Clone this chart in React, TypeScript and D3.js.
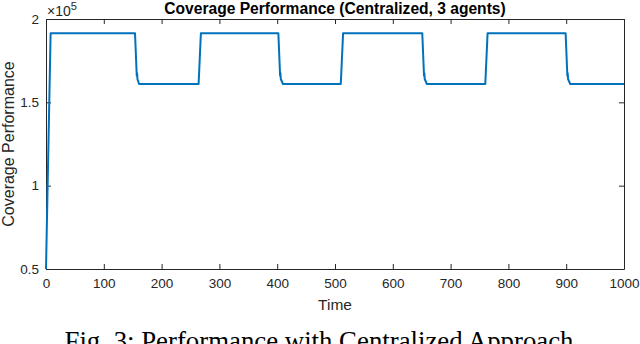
import React, { useEffect, useRef } from "react";
import * as d3 from "d3";

// time steps and coverage values (x1e5)
const times = [
  0, 8, 154, 157, 157.6, 158.2, 161, 264, 268,
  402, 405, 405.6, 406.2, 410, 510, 514,
  651, 654, 654.6, 655.2, 659, 760, 764,
  899, 902, 902.6, 903.2, 907, 1000,
];
const values = [
  0.5, 1.915, 1.915, 1.66, 1.675, 1.64, 1.61, 1.61, 1.915,
  1.915, 1.66, 1.675, 1.64, 1.61, 1.61, 1.915,
  1.915, 1.66, 1.675, 1.64, 1.61, 1.61, 1.915,
  1.915, 1.66, 1.675, 1.64, 1.61, 1.61,
];
const xTicks = [0, 100, 200, 300, 400, 500, 600, 700, 800, 900, 1000];
const yTicks = [0.5, 1, 1.5, 2];

const W = 640;
const H = 344;
const M = { top: 19, right: 16, bottom: 75, left: 46 };
const AXC = "#262626";
const FONT = "'Liberation Sans', Arial, Helvetica, sans-serif";

export default function App() {
  const ref = useRef<SVGSVGElement>(null);

  useEffect(() => {
    const svg = d3.select(ref.current);
    svg.selectAll("*").remove();
    const iw = W - M.left - M.right;
    const ih = H - M.top - M.bottom;

    const x = d3.scaleLinear().domain([0, 1000]).range([0, iw]);
    const y = d3.scaleLinear().domain([0.5, 2]).range([ih, 0]);

    const g = svg.append("g").attr("transform", `translate(${M.left},${M.top})`);

    // axes, MATLAB style ticks pointing in
    const xa = g.append("g")
      .attr("transform", `translate(0,${ih})`)
      .call(d3.axisBottom(x).tickValues(xTicks).tickSizeInner(-5).tickSizeOuter(0).tickPadding(9).tickFormat(d3.format("d")));
    const xt = g.append("g")
      .call(d3.axisTop(x).tickValues(xTicks).tickSizeInner(-5).tickSizeOuter(0).tickFormat(() => ""));
    const ya = g.append("g")
      .call(d3.axisLeft(y).tickValues(yTicks).tickSizeInner(-5).tickSizeOuter(0).tickPadding(7).tickFormat(d3.format("")));
    const yr = g.append("g")
      .attr("transform", `translate(${iw},0)`)
      .call(d3.axisRight(y).tickValues(yTicks).tickSizeInner(-5).tickSizeOuter(0).tickFormat(() => ""));

    [xa, xt, ya, yr].forEach((a) => {
      a.selectAll("path").attr("stroke", AXC).attr("stroke-width", 1);
      a.selectAll("line").attr("stroke", AXC).attr("stroke-width", 1);
      a.selectAll("text").attr("fill", AXC).style("font-family", FONT).style("font-size", "13.5px");
    });

    // data line
    const pts = times.map((t, i) => [t, values[i]] as [number, number]);
    const line = d3.line<[number, number]>()
      .x((d) => x(d[0]))
      .y((d) => y(d[1]));
    g.append("path")
      .datum(pts)
      .attr("fill", "none")
      .attr("stroke", "#0072BD")
      .attr("stroke-width", 2)
      .attr("stroke-linejoin", "round")
      .attr("d", line);

    // exponent label
    const ex = g.append("text")
      .attr("x", 1)
      .attr("y", -3)
      .attr("fill", AXC)
      .style("font-family", FONT)
      .style("font-size", "14px");
    ex.append("tspan").text("\u00d710");
    ex.append("tspan").attr("dy", -6).style("font-size", "11px").text("5");

    // title
    svg.append("text")
      .attr("x", M.left + iw / 2)
      .attr("y", 14)
      .attr("text-anchor", "middle")
      .attr("fill", "#000")
      .style("font-family", FONT)
      .style("font-size", "15.6px")
      .style("font-weight", "bold")
      .text("Coverage Performance (Centralized, 3 agents)");

    // axis labels
    svg.append("text")
      .attr("x", M.left + iw / 2)
      .attr("y", 310)
      .attr("text-anchor", "middle")
      .attr("fill", AXC)
      .style("font-family", FONT)
      .style("font-size", "15.5px")
      .text("Time");
    svg.append("text")
      .attr("transform", `translate(14,${M.top + ih / 2}) rotate(-90)`)
      .attr("text-anchor", "middle")
      .attr("fill", AXC)
      .style("font-family", FONT)
      .style("font-size", "16px")
      .text("Coverage Performance");

    // caption
    svg.append("text")
      .attr("x", 319)
      .attr("y", 350)
      .attr("text-anchor", "middle")
      .attr("fill", "#000")
      .style("font-family", "'Liberation Serif', 'Times New Roman', serif")
      .style("font-size", "26.8px")
      .text("Fig. 3: Performance with Centralized Approach");
  }, []);

  return (
    <svg
      ref={ref}
      width={W}
      height={H}
      style={{ position: "absolute", left: 0, top: 0, background: "#fff" }}
    />
  );
}
